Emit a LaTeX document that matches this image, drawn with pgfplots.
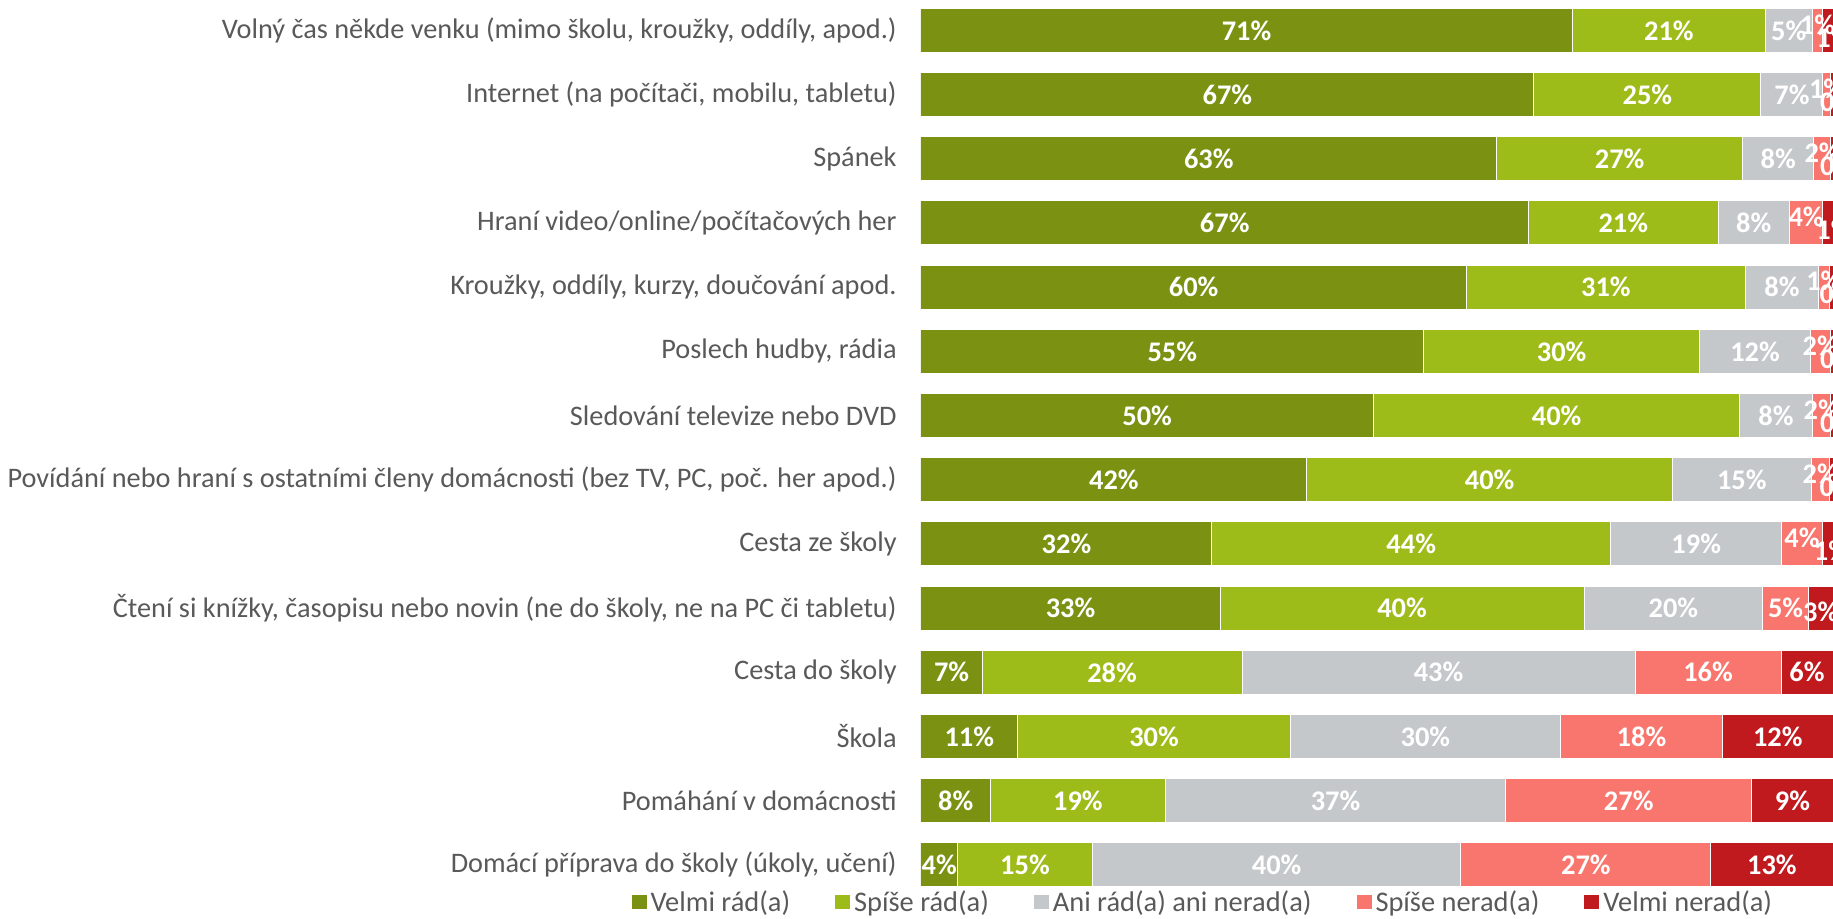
\documentclass[border=0pt]{standalone}
\usepackage{pgfplots}
\pgfplotsset{compat=1.18}
\usepackage{pgfplotstable}
\usepackage{fontspec}
\setmainfont{Carlito}
\definecolor{c1}{HTML}{7A9112}
\definecolor{c2}{HTML}{9EBC19}
\definecolor{c3}{HTML}{C5C8CA}
\definecolor{c4}{HTML}{F8766D}
\definecolor{c5}{HTML}{C0191E}
\definecolor{txt}{HTML}{595959}

\pgfplotstableread{
y a b c d e la lb lc ld le ds es ex
0 71.4 21.2 5.1 1.2 1.1 71 21 5 1 1 3 -3.5 3
1 67.2 24.9 6.8 0.8 0.3 67 25 7 1 0 3 -3.5 3
2 63.1 27.0 7.8 1.8 0.3 63 27 8 2 0 3 -3.5 3
3 66.6 20.8 7.8 3.7 1.1 67 21 8 4 1 3 -3.5 3
4 59.8 30.6 8.0 1.2 0.4 60 31 8 1 0 3 -3.5 3
5 55.1 30.3 12.1 2.2 0.3 55 30 12 2 0 3 -3.5 3
6 49.6 40.2 7.9 2.0 0.3 50 40 8 2 0 3 -3.5 3
7 42.3 40.1 15.2 2.0 0.4 42 40 15 2 0 3 -3.5 3
8 31.9 43.7 18.8 4.4 1.2 32 44 19 4 1 3 -3.5 2
9 32.8 39.9 19.6 5.0 2.7 33 40 20 5 3 0 -2 0
10 6.7 28.5 43.1 16.0 5.7 7 28 43 16 6 0 0 0
11 10.6 29.9 29.6 17.8 12.1 11 30 30 18 12 0 0 0
12 7.6 19.2 37.3 27.0 8.9 8 19 37 27 9 0 0 0
13 4.0 14.8 40.4 27.4 13.4 4 15 40 27 13 0 0 0
}\data

\pgfplotsset{
  common/.style={
    scale only axis, width=456pt, height=449.35pt,
    xmin=0, xmax=100, ymin=-0.5, ymax=13.5, y dir=reverse,
    at={(460.5pt,11pt)}, anchor=south west,
  },
  lbl/.style={draw=none, mark=none, nodes near coords={\pgfplotspointmeta\%},
    point meta=explicit symbolic, nodes near coords align=center,
    every node near coord/.append style={font=\bfseries\fontsize{14.2}{17}\selectfont, text=white, inner sep=0pt}},
}

\begin{document}
\begin{tikzpicture}
\begin{axis}[common,
  xbar stacked, bar width=22pt,
  axis line style={draw=none},
  xtick=\empty,
  ytick={0,...,13},
  major tick length=0pt,
  yticklabels={
    {Volný čas někde venku (mimo školu, kroužky, oddíly, apod.)},
    {Internet (na počítači, mobilu, tabletu)},
    {Spánek},
    {Hraní video/online/počítačových her},
    {Kroužky, oddíly, kurzy, doučování apod.},
    {Poslech hudby, rádia},
    {Sledování televize nebo DVD},
    {Povídání nebo hraní s ostatními členy domácnosti (bez TV, PC, poč. her apod.)},
    {Cesta ze školy},
    {Čtení si knížky, časopisu nebo novin (ne do školy, ne na PC či tabletu)},
    {Cesta do školy},
    {Škola},
    {Pomáhání v domácnosti},
    {Domácí příprava do školy (úkoly, učení)}},
  yticklabel style={font=\fontsize{14.15}{17}\selectfont, text=txt, anchor=east, inner sep=0pt, xshift=-12pt},
  legend style={at={(0.309,-0.006)}, anchor=center, draw=none, fill=none,
    legend columns=5, font=\fontsize{14.2}{17}\selectfont, text=txt,
    nodes={inner xsep=1.5pt, inner ysep=1pt},
    /tikz/every even column/.append style={column sep=20.5pt}},
  legend image code/.code={\fill[#1] (0pt,-3.75pt) rectangle (8pt,3.75pt);},
]
\addplot[fill=c1, draw=white, line width=0.5pt] table[x=a, y=y] {\data};
\addlegendentry{Velmi rád(a)}
\addplot[fill=c2, draw=white, line width=0.5pt] table[x=b, y=y] {\data};
\addlegendentry{Spíše rád(a)}
\addplot[fill=c3, draw=white, line width=0.5pt] table[x=c, y=y] {\data};
\addlegendentry{Ani rád(a) ani nerad(a)}
\addplot[fill=c4, draw=white, line width=0.5pt] table[x=d, y=y] {\data};
\addlegendentry{Spíše nerad(a)}
\addplot[fill=c5, draw=white, line width=0.5pt] table[x=e, y=y] {\data};
\addlegendentry{Velmi nerad(a)}
\end{axis}
\begin{axis}[common, hide axis, clip=false]
\addplot[lbl] table[x expr=\thisrow{a}/2, y=y, meta=la] {\data};
\addplot[lbl] table[x expr=\thisrow{a}+\thisrow{b}/2, y=y, meta=lb] {\data};
\addplot[lbl] table[x expr=\thisrow{a}+\thisrow{b}+\thisrow{c}/2, y=y, meta=lc] {\data};
\addplot[lbl, visualization depends on={\thisrow{ds} \as \myds},
  every node near coord/.append style={yshift=\myds pt}]
  table[x expr=\thisrow{a}+\thisrow{b}+\thisrow{c}+\thisrow{d}/2, y=y, meta=ld] {\data};
\addplot[lbl, visualization depends on={\thisrow{es} \as \myes},
  visualization depends on={\thisrow{ex} \as \myex},
  every node near coord/.append style={yshift=\myes pt, xshift=\myex pt}]
  table[x expr=\thisrow{a}+\thisrow{b}+\thisrow{c}+\thisrow{d}+\thisrow{e}/2, y=y, meta=le] {\data};
\end{axis}
\pgfresetboundingbox
\useasboundingbox (0,0) rectangle (916.5pt,459.5pt);
\end{tikzpicture}
\end{document}
